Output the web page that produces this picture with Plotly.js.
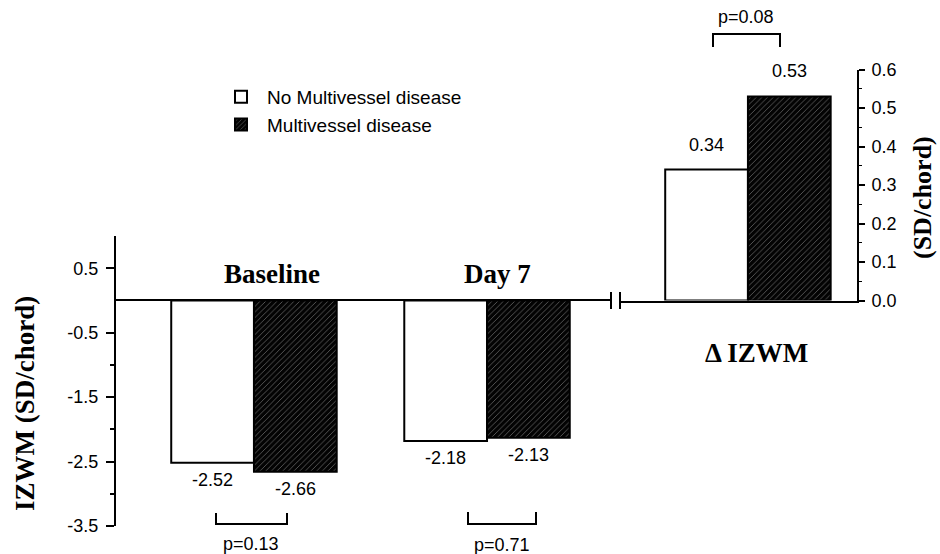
<!DOCTYPE html>
<html>
<head>
<meta charset="utf-8">
<script src="https://cdn.plot.ly/plotly-3.0.1.min.js"></script>
<style>html,body{margin:0;padding:0;background:#fff;}#chart{width:940px;height:554px;}</style>
</head>
<body>
<div id="chart"></div>
<script>
// ---- data ----
const categories = ['Baseline', 'Day 7'];
const noMultivessel = [-2.52, -2.18];
const multivessel = [-2.66, -2.13];
const deltaCategory = ['Δ IZWM'];
const deltaNoMultivessel = [0.34];
const deltaMultivessel = [0.53];
const pLabels = ['p=0.13', 'p=0.71'];
const pDeltaLabel = 'p=0.08';
const leftTickVals = [-3.5, -2.5, -1.5, -0.5, 0.5];
const leftTickText = ['-3.5', '-2.5', '-1.5', '-0.5', '0.5'];
const rightTickVals = [0, 0.1, 0.2, 0.3, 0.4, 0.5, 0.6];
const rightTickText = ['0.0', '0.1', '0.2', '0.3', '0.4', '0.5', '0.6'];
const seriesNames = ['No Multivessel disease', 'Multivessel disease'];
const leftTitle = 'IZWM (SD/chord)';
const rightTitle = '(SD/chord)';

// ---- helpers (pixel -> paper) ----
const W = 940, H = 554;
const px = x => x / W;
const py = y => 1 - y / H;
const sans = 'Liberation Sans, Arial, Helvetica, sans-serif';
const serif = 'Liberation Serif, Times New Roman, serif';
const txtFont = {family: sans, size: 18, color: '#000'};

const whiteMarker = {color: '#ffffff', line: {color: '#000', width: 2}};
const hatchMarker = {
  color: '#000',
  line: {color: '#000', width: 2},
  pattern: {shape: '/', bgcolor: '#030303', fgcolor: '#9a9a9a', size: 4, solidity: 0.13, fillmode: 'replace'}
};

const traces = [
  {type: 'bar', x: categories, y: noMultivessel, name: seriesNames[0], marker: whiteMarker,
   xaxis: 'x', yaxis: 'y', legendgroup: 'a', hoverinfo: 'skip'},
  {type: 'bar', x: categories, y: multivessel, name: seriesNames[1], marker: hatchMarker,
   xaxis: 'x', yaxis: 'y', legendgroup: 'b', hoverinfo: 'skip'},
  {type: 'bar', x: deltaCategory, y: deltaNoMultivessel, name: seriesNames[0], marker: whiteMarker,
   xaxis: 'x2', yaxis: 'y2', legendgroup: 'a', showlegend: false, hoverinfo: 'skip'},
  {type: 'bar', x: deltaCategory, y: deltaMultivessel, name: seriesNames[1], marker: hatchMarker,
   xaxis: 'x2', yaxis: 'y2', legendgroup: 'b', showlegend: false, hoverinfo: 'skip'}
];

const bargap = 0.29;
const off = (1 - bargap) / 4;

const annotations = [];
const ann = o => annotations.push(Object.assign({showarrow: false, xanchor: 'center', yanchor: 'middle'}, o));

// value labels
categories.forEach((c, i) => {
  ann({x: i - off, y: noMultivessel[i], xref: 'x', yref: 'y', text: noMultivessel[i].toFixed(2),
    yanchor: 'top', yshift: -5, font: txtFont});
  ann({x: i + off, y: multivessel[i], xref: 'x', yref: 'y', text: multivessel[i].toFixed(2),
    yanchor: 'top', yshift: -5, font: txtFont});
});
ann({x: -off, y: deltaNoMultivessel[0], xref: 'x2', yref: 'y2', text: deltaNoMultivessel[0].toFixed(2),
  yanchor: 'bottom', yshift: 13, font: txtFont});
ann({x: off, y: deltaMultivessel[0], xref: 'x2', yref: 'y2', text: deltaMultivessel[0].toFixed(2),
  yanchor: 'bottom', yshift: 13, font: txtFont});

// group titles
const titleFont = {family: serif, size: 27, color: '#000'};
ann({x: px(272), y: py(274), xref: 'paper', yref: 'paper', text: '<b>' + categories[0] + '</b>', font: titleFont});
ann({x: px(497), y: py(274), xref: 'paper', yref: 'paper', text: '<b>' + categories[1] + '</b>', font: titleFont});
ann({x: px(756), y: py(353), xref: 'paper', yref: 'paper', text: '<b>' + deltaCategory[0] + '</b>', font: titleFont});

// axis titles
ann({x: px(25), y: py(404), xref: 'paper', yref: 'paper', text: '<b>' + leftTitle + '</b>', textangle: -90,
  font: {family: serif, size: 27, color: '#000'}});
ann({x: px(923), y: py(198), xref: 'paper', yref: 'paper', text: '<b>' + rightTitle + '</b>', textangle: -90,
  font: {family: serif, size: 26, color: '#000'}});

// p-values
ann({x: px(251), y: py(544), xref: 'paper', yref: 'paper', text: pLabels[0], font: txtFont});
ann({x: px(502), y: py(545), xref: 'paper', yref: 'paper', text: pLabels[1], font: txtFont});
ann({x: px(746), y: py(17), xref: 'paper', yref: 'paper', text: pDeltaLabel, font: txtFont});

// brackets & axis break
const bracket = (x1, x2, yBase, yTip) => ({
  type: 'path', xref: 'paper', yref: 'paper',
  path: `M${px(x1)},${py(yTip)} L${px(x1)},${py(yBase)} L${px(x2)},${py(yBase)} L${px(x2)},${py(yTip)}`,
  line: {color: '#000', width: 2}
});
const shapes = [
  bracket(216, 287, 524, 513),
  bracket(468, 536, 524, 512),
  bracket(713, 780, 34, 47),
  {type: 'line', xref: 'paper', yref: 'paper', x0: px(611), x1: px(611), y0: py(292), y1: py(309), line: {color: '#000', width: 2}},
  {type: 'line', xref: 'paper', yref: 'paper', x0: px(620), x1: px(620), y0: py(292), y1: py(309), line: {color: '#000', width: 2}}
];

const layout = {
  width: W, height: H,
  margin: {l: 0, r: 0, t: 0, b: 0},
  paper_bgcolor: '#fff', plot_bgcolor: 'rgba(0,0,0,0)',
  barmode: 'group', bargap: bargap, bargroupgap: 0,
  showlegend: true,
  legend: {x: px(215), y: py(78), xanchor: 'left', yanchor: 'top', bgcolor: 'rgba(0,0,0,0)',
           font: {family: sans, size: 19, color: '#000'}, traceorder: 'normal', itemwidth: 42},
  xaxis: {domain: [px(116), px(611)], anchor: 'y', range: [-0.592, 1.532], showline: false, showticklabels: false,
          ticks: '', showgrid: false, zeroline: false, fixedrange: true},
  yaxis: {domain: [py(526), py(236)], anchor: 'x', range: [-3.5, 1.0], showline: true, linecolor: '#000', linewidth: 2,
          ticks: 'outside', ticklen: 8, tickwidth: 2, tickcolor: '#000', tickmode: 'array', tickvals: leftTickVals, ticktext: leftTickText,
          minor: {tickmode: 'array', tickvals: [-3, -2, -1], ticklen: 4, tickwidth: 2, tickcolor: '#000', ticks: 'outside'},
          tickfont: {family: sans, size: 18, color: '#000'}, ticklabelstandoff: 4,
          showgrid: false, zeroline: true, zerolinecolor: '#000', zerolinewidth: 2, fixedrange: true},
  xaxis2: {domain: [px(620), px(857)], anchor: 'y2', range: [-0.549, 0.468], showline: true, linecolor: '#000', linewidth: 2,
           showticklabels: false, ticks: '', showgrid: false, zeroline: false, fixedrange: true},
  yaxis2: {domain: [py(300.5), py(69.5)], anchor: 'x2', side: 'right', range: [0, 0.6], showline: true, linecolor: '#000', linewidth: 2,
           ticks: 'outside', ticklen: 6, tickwidth: 2, tickcolor: '#000', tickmode: 'array', tickvals: rightTickVals, ticktext: rightTickText,
           minor: {dtick: 0.05, ticklen: 3, tickwidth: 1, tickcolor: '#000', ticks: 'outside'},
           tickfont: {family: sans, size: 18, color: '#000'}, ticklabelstandoff: 3,
           showgrid: false, zeroline: false, fixedrange: true},
  annotations: annotations,
  shapes: shapes
};

Plotly.newPlot('chart', traces, layout, {displayModeBar: false, staticPlot: true});
</script>
</body>
</html>
